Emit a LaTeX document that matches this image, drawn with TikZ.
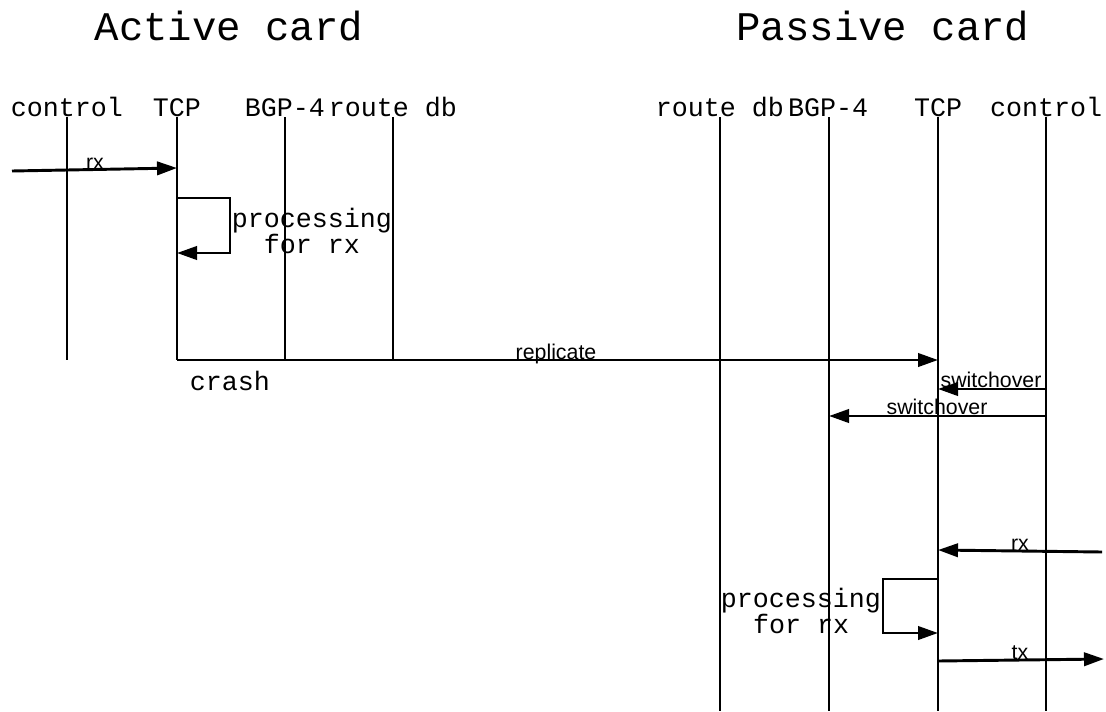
\documentclass[tikz,border=0pt]{standalone}
\usepackage{fontspec}
\setmainfont{Liberation Sans}
\newfontfamily\monofam{Liberation Mono}
\usetikzlibrary{arrows.meta}
\begin{document}
\begin{tikzpicture}[x=0.75pt,y=-0.75pt,
  life/.style={line width=2.2pt},
  msg/.style={line width=2.2pt,-{Triangle[length=15pt,width=10pt]}},
  lab/.style={font=\monofam\fontsize{20}{26}\selectfont,inner sep=0,anchor=base},
  ttl/.style={font=\monofam\fontsize{30.5}{36}\selectfont,inner sep=0,anchor=base},
  mlab/.style={font=\fontsize{16}{19}\selectfont,inner sep=0,anchor=base}]
\useasboundingbox (0,0) rectangle (1106,711);
% titles
\node[ttl] (tA) at (229,40) {Active card};
\node[ttl] (tP) at (883,40) {Passive card};
% heads
\node[lab] (hAc) at (67,116) {control};
\node[lab] (hAt) at (177,116) {TCP};
\node[lab] (hAb) at (285,116) {BGP-4};
\node[lab] (hAr) at (393,116) {route db};
\node[lab] (hPr) at (720,116) {route db};
\node[lab] (hPb) at (828,116) {BGP-4};
\node[lab] (hPt) at (938,116) {TCP};
\node[lab] (hPc) at (1046,116) {control};
% lifeline coordinates
\coordinate (Ac1) at (67,117);  \coordinate (Ac2) at (67,360);
\coordinate (At1) at (177,117); \coordinate (At2) at (177,360);
\coordinate (Ab1) at (285,117); \coordinate (Ab2) at (285,360);
\coordinate (Ar1) at (393,117); \coordinate (Ar2) at (393,360);
\coordinate (Pr1) at (720,117); \coordinate (Pr2) at (720,711);
\coordinate (Pb1) at (829,117); \coordinate (Pb2) at (829,711);
\coordinate (Pt1) at (938,117); \coordinate (Pt2) at (938,711);
\coordinate (Pc1) at (1046,117); \coordinate (Pc2) at (1046,711);
\foreach \l in {Ac,At,Ab,Ar,Pr,Pb,Pt,Pc} \draw[life] (\l1) -- (\l2);
% active rx
\coordinate (rxA0) at (12,171);
\coordinate (rxA1) at (177,168);
\draw[msg] (rxA0) -- (rxA1);
\node[mlab] (lrxA) at (95,169) {rx};
% active processing loop
\coordinate (lpA0) at (177,198);
\coordinate (lpA1) at (230,198);
\coordinate (lpA2) at (230,253);
\coordinate (lpA3) at (177,253);
\draw[msg] (lpA0) -- (lpA1) -- (lpA2) -- (lpA3);
\node[lab] (pA1) at (312,227) {processing};
\node[lab] (pA2) at (312,253) {for rx};
% replicate
\draw[msg] (At2) -- (938,360) coordinate (repE);
\node[mlab] (lrep) at (556,359) {replicate};
\node[lab] (crash) at (230,390) {crash};
% switchovers
\coordinate (sw1a) at (1046,389); \coordinate (sw1b) at (938,389);
\draw[msg] (sw1a) -- (sw1b);
\node[mlab] (lsw1) at (991,387) {switchover};
\coordinate (sw2a) at (1046,416); \coordinate (sw2b) at (829,416);
\draw[msg] (sw2a) -- (sw2b);
\node[mlab] (lsw2) at (937,414) {switchover};
% passive rx
\coordinate (rxP0) at (1102,552); \coordinate (rxP1) at (938,550);
\draw[msg] (rxP0) -- (rxP1);
\node[mlab] (lrxP) at (1020,550) {rx};
% passive loop
\coordinate (lpP0) at (938,579);
\coordinate (lpP1) at (883,579);
\coordinate (lpP2) at (883,633);
\coordinate (lpP3) at (938,633);
\draw[msg] (lpP0) -- (lpP1) -- (lpP2) -- (lpP3);
\node[lab] (pP1) at (801,607) {processing};
\node[lab] (pP2) at (801,633) {for rx};
% tx
\coordinate (tx0) at (938,661); \coordinate (tx1) at (1104,659);
\draw[msg] (tx0) -- (tx1);
\node[mlab] (ltx) at (1020,659) {tx};
\end{tikzpicture}
\end{document}
